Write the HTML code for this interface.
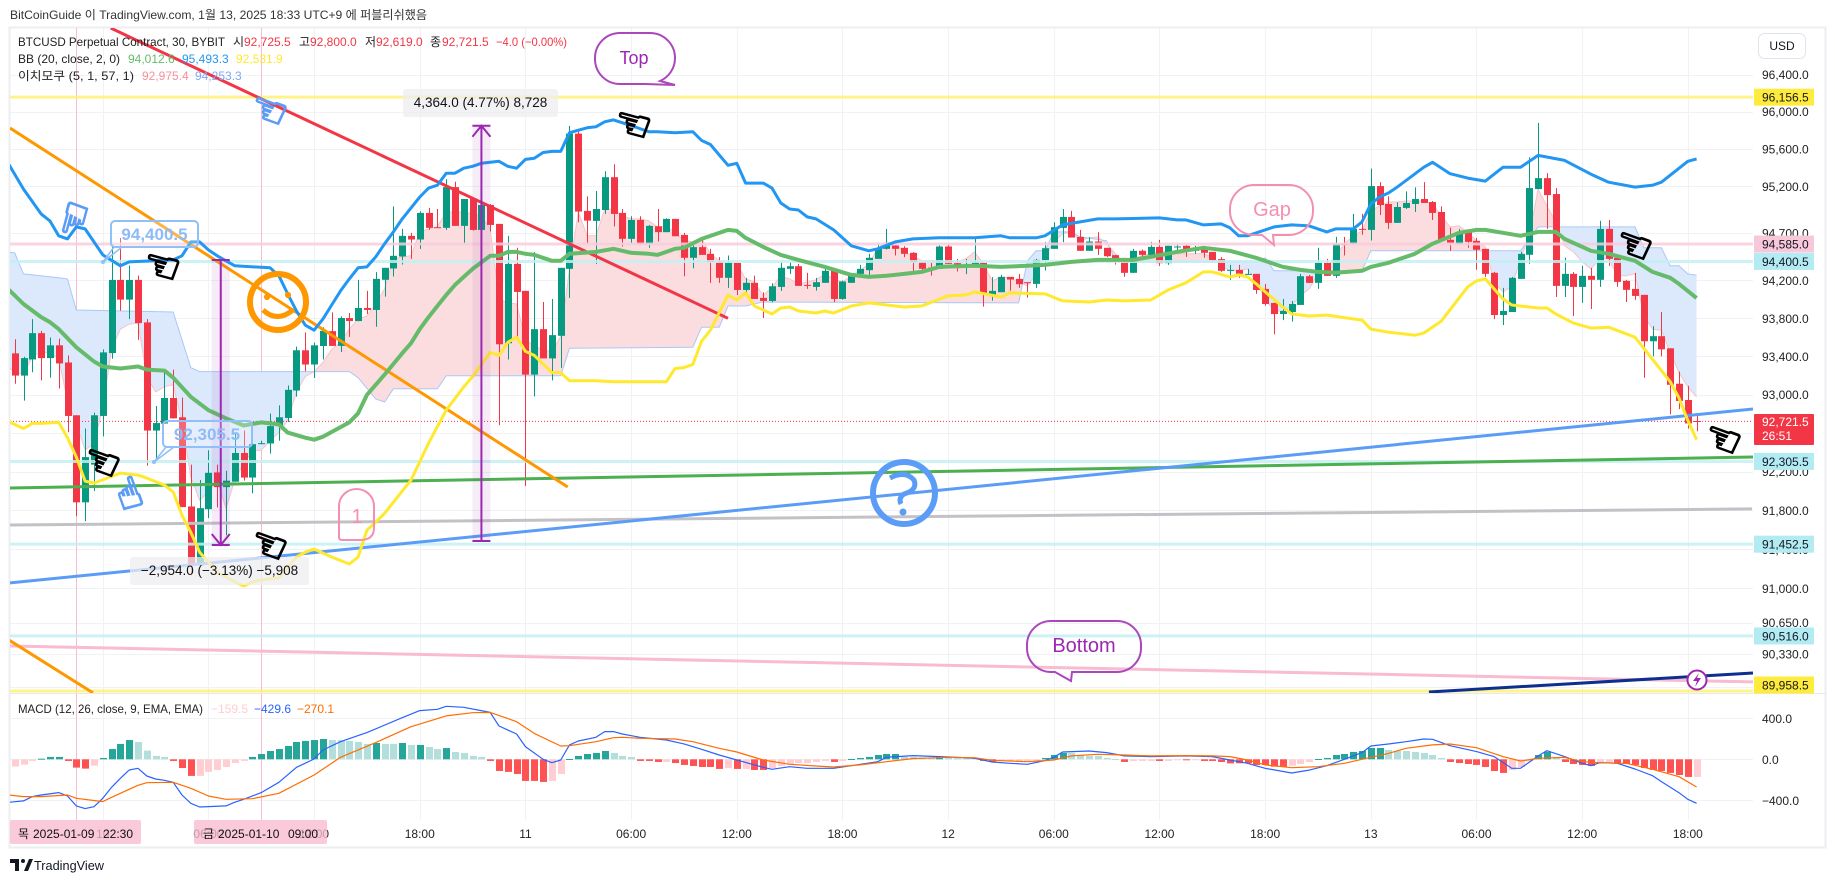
<!DOCTYPE html>
<html lang="ko">
<head>
<meta charset="utf-8">
<title>BTCUSD Perpetual Contract chart</title>
<style>
html,body{margin:0;padding:0;background:#fff;}
svg{display:block;}
text{font-family:"Liberation Sans","Noto Sans CJK KR",sans-serif;}
.hand{font-family:"DejaVu Sans",sans-serif;font-size:42px;text-anchor:middle;dominant-baseline:central;}
</style>
</head>
<body>
<svg id="chart" xmlns="http://www.w3.org/2000/svg" width="1835" height="883" viewBox="0 0 1835 883">
  <rect width="1835" height="883" fill="#fff"/>
  <text x="10" y="19" font-size="12" fill="#333" textLength="417" lengthAdjust="spacingAndGlyphs">BitCoinGuide 이 TradingView.com, 1월 13, 2025 18:33 UTC+9 에 퍼블리쉬했음</text>
  <rect x="9.5" y="27.5" width="1816" height="820" fill="#fff" stroke="#ECEEF3" stroke-width="2"/>
  <defs>
    <clipPath id="priceClip"><rect x="10" y="28" width="1743" height="665"/></clipPath>
    <clipPath id="macdClip"><rect x="10" y="694" width="1743" height="125"/></clipPath>
  </defs>
  <g id="gridLayer"></g>
  <g id="priceLayer" clip-path="url(#priceClip)"></g>
  <g id="macdLayer" clip-path="url(#macdClip)"></g>
  <line x1="10" y1="693.5" x2="1826" y2="693.5" stroke="#E6E8EE" stroke-width="1"/>

  <g>
    <path d="M620 33H650A25 25 0 0 1 675 58A25 25 0 0 1 660 81L675 85L645 84H620A25 25 0 0 1 595 59V58A25 25 0 0 1 620 33Z" fill="none" stroke="#AB47BC" stroke-width="2"/>
    <text x="634" y="64" font-size="18" fill="#9C27B0" text-anchor="middle">Top</text>
    <path d="M1254 185H1289A24 24 0 0 1 1313 209V211A24 24 0 0 1 1289 235H1273L1274 245L1262 235H1254A24 24 0 0 1 1230 211V209A24 24 0 0 1 1254 185Z" fill="none" stroke="#F48FB1" stroke-width="2"/>
    <text x="1272" y="216" font-size="20" fill="#F48FB1" text-anchor="middle">Gap</text>
    <path d="M1051 621H1117A24 24 0 0 1 1141 645V648A24 24 0 0 1 1117 672H1072L1071 681L1055 672H1051A24 24 0 0 1 1027 648V645A24 24 0 0 1 1051 621Z" fill="none" stroke="#AB47BC" stroke-width="2"/>
    <text x="1084" y="652" font-size="20" fill="#9C27B0" text-anchor="middle">Bottom</text>
    <path d="M339 506A17.5 17 0 0 1 374 506V528Q374 540 360 540H342Q339 540 339 537Z" fill="none" stroke="#F48FB1" stroke-width="2"/>
    <text x="357" y="523" font-size="20" fill="#F48FB1" text-anchor="middle">1</text>

    <g>
      <rect x="111" y="221" width="87" height="26" rx="4" fill="rgba(255,255,255,.25)" stroke="#90BFF9" stroke-width="2"/>
      <path d="M122 247L103 262M103 262L114 247" stroke="#90BFF9" stroke-width="1.6" fill="none"/>
      <circle cx="103" cy="262" r="2" fill="#90BFF9"/>
      <text x="154.5" y="240" font-size="17" font-weight="700" fill="#8DBBF9" text-anchor="middle">94,400.5</text>
    </g>
    <g>
      <rect x="163" y="421" width="89" height="26" rx="4" fill="rgba(255,255,255,.25)" stroke="#90BFF9" stroke-width="2"/>
      <path d="M174 447L154 462M154 462L166 447" stroke="#90BFF9" stroke-width="1.6" fill="none"/>
      <circle cx="154" cy="462" r="2" fill="#90BFF9"/>
      <text x="207" y="440" font-size="17" font-weight="700" fill="#8DBBF9" text-anchor="middle">92,305.5</text>
    </g>

    <g>
      <rect x="403" y="89" width="155" height="28" rx="3" fill="rgba(238,238,240,.75)"/>
      <text x="480.5" y="107" font-size="13.5" fill="#111" text-anchor="middle">4,364.0 (4.77%) 8,728</text>
    </g>
    <g>
      <rect x="130" y="557" width="179" height="28" rx="3" fill="rgba(238,238,240,.75)"/>
      <text x="219.5" y="575" font-size="13.5" fill="#111" text-anchor="middle">−2,954.0 (−3.13%) −5,908</text>
    </g>

    <g fill="none" stroke="#FF9800" stroke-width="6">
      <circle cx="278" cy="302" r="28"/>
      <circle cx="267" cy="297" r="1.6" stroke-width="3"/>
      <circle cx="288" cy="295" r="1.6" stroke-width="3"/>
      <path d="M263 310Q277 323 293 310" stroke-width="5"/>
    </g>
    <g fill="none" stroke="#5B9CF6" stroke-width="6">
      <circle cx="904" cy="493" r="31"/>
      <path d="M890 478Q905 470 914 480Q918 490 904 494Q898 498 901 504" stroke-width="5"/>
      <circle cx="903" cy="512" r="2.5" fill="#5B9CF6" stroke-width="2"/>
    </g>
    <g>
      <circle cx="1697" cy="680" r="9.5" fill="#fff" stroke="#9C27B0" stroke-width="2"/>
      <path d="M1699 673L1693 681H1697L1695 687L1701 678H1697Z" fill="#9C27B0"/>
    </g>

    <text class="hand" x="162" y="266" fill="#000" stroke="#000" stroke-width="1.8" transform="rotate(15 162 266)">☜</text>
    <text class="hand" x="633" y="124" fill="#000" stroke="#000" stroke-width="1.8" transform="rotate(15 633 124)">☜</text>
    <text class="hand" x="102" y="462" fill="#000" stroke="#000" stroke-width="1.8" transform="rotate(20 102 462)">☜</text>
    <text class="hand" x="269" y="545" fill="#000" stroke="#000" stroke-width="1.8" transform="rotate(20 269 545)">☜</text>
    <text class="hand" x="1634" y="245" fill="#000" stroke="#000" stroke-width="1.8" transform="rotate(20 1634 245)">☜</text>
    <text class="hand" x="1723" y="439" fill="#000" stroke="#000" stroke-width="1.8" transform="rotate(20 1723 439)">☜</text>
    <text class="hand" x="269" y="110" fill="#5B9CF6" stroke="#5B9CF6" stroke-width="1.8" transform="rotate(20 269 110)">☜</text>
    <text class="hand" x="74" y="219" fill="#5B9CF6" stroke="#5B9CF6" stroke-width="1.8" transform="rotate(-75 74 219)">☜</text>
    <text class="hand" x="129" y="493" fill="#5B9CF6" stroke="#5B9CF6" stroke-width="1.8" transform="rotate(70 129 493)">☜</text>
  </g>

  <g font-size="12">
    <text x="18" y="46" fill="#222" textLength="207" lengthAdjust="spacingAndGlyphs">BTCUSD Perpetual Contract, 30, BYBIT</text>
    <text x="233" y="46" fill="#222">시</text><text x="244" y="46" fill="#F23645">92,725.5</text>
    <text x="299" y="46" fill="#222">고</text><text x="310" y="46" fill="#F23645">92,800.0</text>
    <text x="365" y="46" fill="#222">저</text><text x="376" y="46" fill="#F23645">92,619.0</text>
    <text x="430" y="46" fill="#222">종</text><text x="442" y="46" fill="#F23645">92,721.5</text>
    <text x="496" y="46" fill="#F23645" textLength="71" lengthAdjust="spacingAndGlyphs">−4.0 (−0.00%)</text>
    <text x="18" y="63" fill="#222">BB (20, close, 2, 0)</text>
    <text x="128" y="63" fill="#66BB6A">94,012.6</text>
    <text x="182" y="63" fill="#2196F3">95,493.3</text>
    <text x="236" y="63" fill="#FFE92E">92,531.9</text>
    <text x="18" y="80" fill="#222" textLength="116" lengthAdjust="spacingAndGlyphs">이치모쿠 (5, 1, 57, 1)</text>
    <text x="142" y="80" fill="#F7919A">92,975.4</text>
    <text x="195" y="80" fill="#7FA8F5">94,253.3</text>
    <text x="18" y="713" fill="#222" textLength="185" lengthAdjust="spacingAndGlyphs">MACD (12, 26, close, 9, EMA, EMA)</text>
    <text x="211" y="713" fill="#FFCDD2">−159.5</text>
    <text x="254" y="713" fill="#2962FF">−429.6</text>
    <text x="297" y="713" fill="#FF6D00">−270.1</text>
  </g>

  <g id="axisLayer"></g>
  <g id="tagLayer"></g>

  <g font-size="12">
    <rect x="10" y="820" width="131" height="24" rx="2" fill="rgba(248,187,208,.78)"/>
    <text x="18" y="838" fill="#111">목</text>
    <text x="33" y="838" fill="#111">2025-01-09</text>
    <text x="103" y="838" fill="#111">22:30</text>
    <rect x="194" y="820" width="133" height="24" rx="2" fill="rgba(248,187,208,.78)"/>
    <text x="203" y="838" fill="#111">금</text>
    <text x="218" y="838" fill="#111">2025-01-10</text>
    <text x="288" y="838" fill="#111">09:00</text>
  </g>

  <g>
    <rect x="1758.5" y="33.5" width="47" height="25" rx="6" fill="#fff" stroke="#E0E3EB"/>
    <text x="1782" y="50" font-size="12" fill="#131722" text-anchor="middle">USD</text>
  </g>

  <g>
    <path d="M10 859H19V871H15V863H10ZM24 871L29 859H33L28 871Z" fill="#131722"/>
    <circle cx="23" cy="861" r="2" fill="#131722"/>
    <text x="34" y="870" font-size="13" fill="#131722" textLength="70" lengthAdjust="spacingAndGlyphs">TradingView</text>
  </g>
</svg>

<script>
/* ---------- axis tick data ---------- */
const priceTicks = [96400,96000,95600,95200,94700,94200,93800,93400,93000,92600,92200,91800,91400,91000,90650,90330,90000];
const priceTickLabels = ["96,400.0","96,000.0","95,600.0","95,200.0","94,700.0","94,200.0","93,800.0","93,400.0","93,000.0","92,600.0","92,200.0","91,800.0","91,400.0","91,000.0","90,650.0","90,330.0",""];
const macdTicks = [400,0,-400];
const macdTickLabels = ["400.0","0.0","−400.0"];
const timeTickBars = [10,22,34,46,58,70,82,94,106,118,130,142,154,166,178,190];
const timeTickLabels = ["10","06:00","12:00","18:00","11","06:00","12:00","18:00","12","06:00","12:00","18:00","13","06:00","12:00","18:00"];
const markedBars = [7,28];

/* ---------- candles, bar 0 = 2025-01-09 19:00, 30 min bars ---------- */
const opens = [93432,93199,93368,93644,93382,93516,93336,92785,91883,92273,
92778,93435,94205,93997,94205,93757,92626,92697,92965,92764,
91840,91235,91812,92192,92040,92096,92393,92139,92492,92492,
92672,92757,93043,93464,93315,93509,93665,93510,93803,93771,
93909,93888,94206,94326,94453,94672,94633,94916,94764,94757,
95191,94778,95064,94735,95000,94799,93538,94375,94089,93209,
93686,93379,93616,94322,95764,94937,94831,94947,95297,94916,
94640,94841,94587,94774,94711,94852,94682,94439,94552,94481,
94393,94227,94386,94099,94174,94015,93983,94131,94322,94350,
94152,94131,94174,94301,94004,94174,94269,94308,94428,94534,
94569,94545,94492,94393,94336,94322,94559,94382,94361,94368,
94386,94039,94075,94237,94216,94181,94163,94414,94534,94757,
94873,94661,94513,94612,94545,94467,94393,94280,94513,94470,
94555,94382,94552,94566,94513,94534,94502,94425,94301,94311,
94258,94269,94110,93962,93845,93866,93941,94244,94174,94386,
94248,94587,94587,94746,94735,95202,95011,94810,94969,95011,
95064,95032,94926,94630,94587,94711,94619,94534,94280,93835,
93866,94216,94471,95170,95287,95117,94142,94269,94131,94248,
94206,94746,94439,94195,94110,94047,93559,93612,93485,93114,
92944,92725.5];
const highs = [93580,93396,93792,93668,93598,93587,93410,92785,92647,92813,
93474,94555,94651,94357,94251,93792,92881,93227,93262,92969,
92273,92114,92421,92273,92209,92594,92626,92520,92520,92803,
92888,93096,93502,93651,93545,93704,93863,93820,93856,94206,
94089,94287,94333,94986,94746,94704,94933,94969,94958,95276,
95248,95064,95071,95064,95011,94799,94672,94545,94089,94499,
93972,94004,94333,95848,95785,95092,95149,95361,95435,94958,
94880,94880,94788,94958,94859,94852,94704,94587,94647,94534,
94446,94463,94386,94227,94251,94075,94170,94393,94393,94375,
94280,94227,94340,94322,94198,94276,94364,94481,94598,94746,
94576,94562,94499,94393,94386,94569,94587,94428,94428,94658,
94393,94234,94258,94237,94269,94181,94428,94605,94817,94958,
94937,94735,94658,94711,94545,94470,94435,94534,94527,94608,
94629,94566,94587,94576,94566,94545,94502,94446,94364,94364,
94322,94269,94163,93962,94004,93983,94269,94258,94545,94428,
94661,94661,94905,94905,95389,95244,95092,95029,95145,95188,
95244,95043,94986,94760,94746,94735,94651,94534,94290,94121,
94237,94502,95509,95880,95340,95181,94439,94287,94354,94333,
94831,94841,94439,94206,94280,94047,93718,93866,93485,93241,
93093,92800];
const lows = [93114,92937,93234,93149,93177,93064,92609,91740,91690,91998,
92566,93375,93880,93792,93573,92262,92326,92697,92750,91834,
91134,91235,91720,91830,91543,92096,92107,91977,92485,92386,
92520,92715,92979,93244,93174,93368,93510,93446,93605,93771,
93845,93711,94029,94241,94368,94428,94534,94735,94757,94735,
94778,94594,94728,94735,94718,92683,93368,93580,92050,92980,
93379,93149,93280,94015,94817,94587,94375,94905,94771,94559,
94594,94577,94545,94612,94711,94668,94244,94329,94470,94174,
94174,94121,94046,94068,94004,93803,93969,94089,94269,94142,
94110,94092,94174,93969,93997,94174,94269,94244,94428,94527,
94463,94446,94297,94304,94251,94322,94375,94294,94266,94368,
93923,93986,94075,94092,94121,94018,94121,94304,94534,94605,
94654,94513,94513,94470,94446,94368,94237,94280,94449,94449,
94354,94364,94513,94449,94481,94439,94393,94290,94206,94227,
94258,94057,93933,93633,93781,93767,93941,94174,94110,94248,
94227,94463,94577,94683,94622,94894,94746,94810,94958,94926,
95022,94841,94630,94513,94577,94545,94312,94237,93792,93729,
93866,94216,94375,95170,94746,94025,94025,93824,93962,93898,
94131,94354,94131,93972,93994,93177,93400,93400,92796,92849,
92647,92619];
const closes = [93199,93382,93644,93382,93516,93326,92778,91883,92351,92785,
93442,94205,93997,94205,93750,92626,92704,92965,92753,91834,
91235,91823,92188,92040,92107,92393,92139,92485,92495,92672,
92764,93050,93464,93315,93516,93668,93510,93803,93771,93909,
93888,94216,94333,94460,94672,94633,94916,94757,94757,95191,
94778,95064,94735,95000,94788,93527,94375,94078,93209,93686,
93379,93623,94333,95764,94930,94834,94958,95297,94905,94640,
94841,94587,94778,94711,94852,94668,94439,94552,94470,94393,
94227,94386,94099,94174,94004,93983,94138,94333,94350,94142,
94142,94181,94301,94004,94188,94276,94322,94439,94541,94569,
94534,94481,94393,94322,94322,94559,94375,94368,94368,94393,
94057,94089,94237,94209,94160,94170,94417,94541,94764,94873,
94654,94513,94612,94534,94456,94428,94280,94513,94470,94555,
94382,94566,94559,94513,94523,94492,94414,94301,94311,94269,
94269,94099,93951,93845,93877,93951,94244,94174,94386,94248,
94587,94577,94746,94739,95202,95000,94810,94979,95022,95064,
95022,94916,94630,94598,94711,94608,94524,94269,93835,93877,
94227,94481,95181,95287,95106,94142,94269,94131,94248,94206,
94746,94428,94184,94100,94036,93559,93612,93474,93103,92934,
92700,92721.5];

/* ---------- Bollinger bands as [bar, price] readings ---------- */
const bbUpperPoints = [[-1,95488],[1,95170],[3,94905],[4,94831],[5,94672],[6,94640],[7,94767],[8,94746],[10,94470],[12,94354],[13,94396],[18,94417],[19,94460],[20,94608],[21,94608],[22,94523],[23,94460],[25,94354],[29,94333],[30,94248],[31,94057],[32,93877],[33,93728],[34,93675],[35,93792],[36,93940],[37,94089],[38,94216],[39,94333],[40,94343],[41,94449],[42,94587],[43,94714],[44,94852],[45,94969],[46,95085],[47,95181],[48,95212],[49,95340],[50,95340],[51,95393],[52,95414],[53,95446],[55,95467],[56,95414],[57,95393],[58,95488],[59,95499],[60,95562],[61,95573],[62,95573],[63,95774],[65,95827],[66,95838],[67,95891],[68,95912],[70,95850],[72,95785],[73,95785],[75,95774],[77,95785],[78,95690],[79,95647],[81,95424],[82,95446],[83,95234],[85,95234],[86,95181],[87,95022],[88,94958],[89,94947],[90,94873],[91,94852],[93,94735],[95,94566],[97,94513],[98,94534],[100,94608],[102,94640],[105,94651],[109,94651],[112,94672],[113,94651],[116,94651],[117,94672],[119,94788],[121,94820],[123,94852],[125,94852],[130,94863],[132,94841],[133,94841],[135,94788],[137,94799],[138,94757],[139,94672],[140,94672],[143,94767],[145,94788],[147,94778],[149,94714],[150,94746],[152,94746],[153,94820],[154,95011],[155,95085],[156,95128],[157,95191],[160,95403],[161,95456],[163,95334],[165,95287],[167,95255],[168,95329],[169,95403],[171,95403],[173,95530],[176,95477],[179,95329],[181,95244],[184,95191],[186,95212],[187,95244],[190,95467],[191,95493.3]];
const bbBasisPoints = [[-1,94131],[1,93951],[3,93813],[4,93760],[5,93686],[7,93495],[9,93347],[10,93294],[12,93273],[14,93294],[15,93262],[17,93251],[18,93177],[20,92976],[22,92838],[24,92753],[26,92679],[28,92711],[30,92690],[31,92605],[33,92552],[34,92531],[35,92562],[38,92711],[39,92806],[40,92997],[42,93209],[44,93432],[45,93538],[46,93686],[47,93813],[48,93930],[49,94046],[50,94152],[51,94237],[52,94322],[54,94460],[55,94460],[56,94502],[57,94502],[58,94481],[59,94470],[61,94407],[62,94407],[63,94481],[66,94502],[68,94534],[70,94492],[72,94481],[73,94470],[74,94502],[75,94534],[76,94545],[78,94640],[81,94735],[82,94725],[83,94650],[85,94555],[87,94470],[89,94417],[92,94343],[95,94258],[97,94237],[99,94248],[101,94269],[103,94290],[105,94343],[109,94354],[112,94343],[115,94354],[117,94364],[120,94396],[123,94417],[127,94417],[129,94449],[132,94502],[135,94545],[138,94513],[141,94438],[144,94343],[146,94311],[148,94290],[150,94280],[153,94301],[154,94343],[156,94386],[159,94481],[161,94587],[164,94704],[166,94735],[167,94735],[169,94704],[171,94672],[172,94693],[173,94714],[175,94714],[176,94640],[179,94513],[181,94481],[184,94407],[186,94290],[188,94227],[189,94163],[191,94012.6]];
const bbLowerPoints = [[-1,92732],[1,92647],[2,92700],[3,92700],[5,92711],[6,92552],[7,92352],[8,92102],[9,92082],[12,92185],[14,92164],[15,92133],[17,92061],[18,91990],[19,91750],[20,91575],[21,91370],[22,91270],[23,91167],[25,91065],[26,91024],[27,91065],[28,91086],[30,91107],[32,91321],[33,91370],[34,91402],[36,91321],[38,91249],[39,91321],[40,91596],[41,91678],[42,91770],[43,91884],[45,92113],[47,92496],[49,92838],[51,93082],[52,93188],[54,93442],[55,93410],[56,93548],[57,93601],[58,93453],[59,93410],[61,93230],[62,93230],[63,93145],[66,93145],[68,93135],[74,93135],[75,93273],[76,93283],[77,93315],[78,93559],[79,93675],[81,94046],[82,93993],[83,94068],[84,93930],[86,93845],[87,93909],[88,93919],[89,93877],[91,93856],[92,93877],[93,93856],[95,93930],[97,93962],[101,93919],[103,93930],[106,94036],[108,94046],[109,94078],[112,94025],[113,94068],[117,94057],[119,93983],[122,93972],[124,93993],[126,93983],[129,93993],[131,94099],[133,94174],[135,94290],[136,94290],[138,94237],[139,94258],[140,94237],[141,94163],[142,94078],[144,93919],[145,93845],[147,93824],[149,93834],[153,93781],[154,93686],[156,93654],[159,93622],[160,93644],[162,93771],[165,94131],[166,94195],[167,94216],[169,94004],[170,93940],[173,93909],[174,93909],[175,93845],[177,93750],[179,93697],[181,93707],[184,93601],[186,93368],[188,93135],[189,92965],[190,92732],[191,92531.9]];

/* ---------- Ichimoku cloud ---------- */
const spanAFirstBar = -1;
const spanAValues = [93315,93230,93209,93400,93442,93442,93368,92944,92700,92424,92488,
92870,93474,93686,93739,93750,93188,93029,93082,93103,92711,
92145,91905,91990,92113,91820,92113,92286,92410,92424,92520,
92605,92732,93029,93188,93241,93336,93474,93548,93686,93792,
93824,93951,94110,94428,94449,94460,94714,94746,94767,94926,
94926,94926,94905,94884,94746,94004,93962,93951,93580,93506,
93474,93442,93612,94322,94926,94672,94672,94958,94958,94884,
94852,94852,94831,94767,94767,94714,94619,94608,94640,94481,
94407,94396,94375,94216,94184,94036,94131,94248,94216,94163,
94184,94205,94269,94216,94184,94248,94301,94375,94534,94608,
94587,94502,94460,94407,94407,94396,94396,94396,94428,94502,
94375,94195,94237,94227,94184,94142,94269,94449,94608,94693,
94714,94619,94651,94661,94587,94481,94375,94428,94460,94481,
94513,94502,94481,94481,94481,94481,94449,94354,94301,94301,
94322,94184,94004,93877,93877,93930,94036,94110,94269,94322,
94460,94587,94672,94725,94937,94990,95032,95032,95043,95043,
95043,95011,94884,94767,94778,94714,94619,94555,94184,94078,
94131,94428,94672,95170,94990,94820,94566,94502,94396,94322,
94428,94428,94248,94248,94269,93824,93686,93675,93442,93230,
93082,92975.4];
const spanBPoints = [[-1,94502],[0,94492],[1,94269],[5,94227],[6,94216],[7,93887],[18,93866],[20,93283],[21,93241],[38,93241],[39,93177],[41,92955],[42,92923],[43,93061],[48,93061],[49,93198],[62,93198],[63,93485],[77,93495],[78,93707],[80,93707],[81,93930],[83,93930],[85,93972],[114,93962],[115,94407],[116,94513],[117,94513],[118,94714],[120,94714],[121,94661],[124,94619],[125,94407],[126,94396],[141,94396],[142,94438],[143,94301],[153,94301],[154,94513],[171,94513],[173,94767],[184,94767],[185,94545],[187,94545],[188,94354],[189,94354],[190,94269],[191,94253.3]];

/* ---------- horizontal levels, trend lines and measures ---------- */
const levelPrices = [96156.5,94585.0,94400.5,92305.5,91452.5,90516.0,89958.5];
const levelLabels = ["96,156.5","94,585.0","94,400.5","92,305.5","91,452.5","90,516.0","89,958.5"];
const levelColors = ["#FFF176","#F8CEDD","#C4F0F3","#C4F0F3","#C4F0F3","#C4F0F3","#FFF176"];
const levelTagColors = ["#FFEB3B","#F8C8DA","#B2EBF2","#B2EBF2","#B2EBF2","#B2EBF2","#FFEB3B"];
const lastPrice = 92721.5;
const lastPriceLabel = "92,721.5";
const countdownLabel = "26:51";
const trendRed = [10.9,96905,81,93800];
const trendOrangeUpper = [-0.53,95824,62.8,92041];
const trendOrangeLower = [-0.65,90474,8.9,89939];
const trendBlue = [-0.53,91056,197.4,92850];
const trendGreen = [-0.53,92031,197.4,92351];
const trendGrey = [-0.53,91649,197.3,91815];
const trendPink = [-0.65,90414,197.4,90050];
const trendNavy = [160.6,89948,197.4,90140];
const measureUp = [53,91485,95849];
const measureDown = [23.4,94416,91444];

/* ---------- MACD ---------- */
const macdHist = [-71,-52,-16,6,23,23,-16,-81,-91,-62,
13,100,150,188,169,85,33,23,-16,-85,
-162,-162,-123,-104,-75,-36,-16,23,52,81,
100,130,169,179,188,198,188,188,179,169,
150,159,150,150,159,140,140,120,100,110,
71,62,33,23,-16,-114,-123,-143,-211,-211,
-221,-211,-143,3,33,52,62,81,62,33,
23,-16,-16,-26,-26,-36,-55,-65,-75,-75,
-94,-85,-94,-94,-104,-104,-85,-65,-46,-36,
-36,-26,-16,-26,-16,3,13,23,42,52,
52,23,23,16,13,23,16,13,10,10,
-16,-26,-16,-16,-16,-16,-16,13,42,62,
62,42,33,33,13,3,-26,-16,-16,-16,
-16,-16,-6,-8,-6,-16,-16,-26,-40,-39,
-39,-55,-55,-72,-72,-62,-46,-26,3,13,
42,52,72,81,111,111,91,81,81,72,
62,42,13,-26,-36,-46,-55,-75,-114,-133,
-104,-75,-20,42,72,23,-26,-46,-55,-65,
-33,-33,-36,-46,-55,-85,-104,-114,-133,-153,
-172,-172];
const macdFadedBars = [0,1,2,9,14,15,16,17,21,22,23,24,25,26,36,37,38,39,40,42,43,45,47,48,50,51,52,53,61,62,68,69,70,74,81,83,86,87,88,89,90,91,92,94,101,102,103,104,106,107,108,109,112,113,114,115,116,120,121,122,123,124,125,127,128,129,131,132,134,145,146,147,156,157,158,159,160,161,162,170,171,172,175,180,181,191];
const macdLinePoints = [[-1,-422],[1,-406],[2,-364],[3,-348],[5,-325],[6,-358],[7,-455],[8,-481],[9,-462],[10,-380],[11,-273],[12,-185],[13,-104],[14,-88],[15,-163],[16,-192],[17,-205],[18,-224],[19,-348],[20,-429],[21,-465],[24,-455],[25,-419],[26,-390],[28,-325],[30,-224],[32,-78],[34,3],[35,91],[37,172],[39,231],[40,260],[44,406],[46,475],[48,488],[49,517],[51,507],[54,458],[55,325],[57,247],[58,124],[60,0],[61,-33],[62,-7],[63,140],[64,179],[66,215],[67,270],[68,270],[69,247],[71,215],[74,188],[76,150],[78,98],[80,42],[82,-7],[85,-78],[86,-98],[88,-72],[90,-88],[93,-88],[95,-62],[98,-23],[99,20],[102,36],[105,26],[107,20],[109,10],[111,-26],[113,-39],[115,-49],[117,-13],[118,20],[119,71],[122,81],[124,65],[126,33],[129,26],[133,33],[136,26],[138,-7],[140,-39],[142,-88],[145,-134],[147,-105],[149,-62],[151,0],[153,65],[154,130],[156,149],[158,172],[160,198],[161,195],[163,133],[166,75],[168,26],[170,-88],[171,-88],[173,32],[174,84],[176,26],[178,-39],[179,-62],[180,-33],[182,-39],[184,-95],[186,-160],[187,-218],[189,-326],[190,-390],[191,-429.6]];
const macdSignalPoints = [[-1,-345],[1,-364],[3,-364],[6,-348],[7,-380],[10,-413],[11,-371],[14,-254],[15,-228],[18,-224],[20,-283],[22,-358],[24,-390],[27,-384],[30,-332],[34,-153],[37,20],[41,163],[45,318],[49,423],[52,455],[54,458],[57,367],[59,253],[62,130],[63,133],[66,172],[68,211],[69,215],[71,205],[75,198],[77,172],[80,107],[82,71],[85,-7],[88,-49],[91,-65],[93,-75],[96,-55],[99,-23],[102,7],[106,20],[109,16],[111,-10],[115,-23],[118,-7],[120,33],[123,49],[126,42],[129,33],[133,36],[136,33],[138,26],[140,-7],[142,-55],[145,-82],[148,-72],[151,-39],[153,0],[156,58],[158,107],[161,140],[163,149],[166,113],[169,26],[171,-17],[173,10],[176,19],[178,-23],[180,-33],[183,-39],[186,-98],[189,-170],[191,-270.1]];

/* ---------- axis functions ---------- */
const svgNS = 'http://www.w3.org/2000/svg';
function xOf(bar){ return 14.7 + 8.806 * bar; }
function yOf(price){ return 111.7 + 8912 * Math.log(96000 / price); }
function yMacd(value){ return 759.3 - 0.1025 * value; }
function mk(tag, attrs, parent){
  const el = document.createElementNS(svgNS, tag);
  for (const k in attrs) el.setAttribute(k, attrs[k]);
  parent.appendChild(el);
  return el;
}
function pointsOf(series, yFn){
  return series.map(function(p){ return xOf(p[0]).toFixed(1) + ',' + yFn(p[1]).toFixed(1); }).join(' ');
}
const gridLayer = document.getElementById('gridLayer');
const priceLayer = document.getElementById('priceLayer');
const macdLayer = document.getElementById('macdLayer');
const axisLayer = document.getElementById('axisLayer');
const tagLayer = document.getElementById('tagLayer');
const defs = document.querySelector('defs');

/* ---------- grid and axis labels ---------- */
priceTicks.forEach(function(p, i){
  const y = Math.round(yOf(p)) + 0.5;
  const line = mk('line', {x1:10, x2:1753, y1:y, y2:y, stroke:'#F1F2F5', 'stroke-width':1}, gridLayer);
  
  
  if (priceTickLabels[i]) {
    const label = mk('text', {x:1762, y:yOf(p) + 4.5, 'font-size':12, fill:'#222'}, axisLayer);
    
    
    label.textContent = priceTickLabels[i];
  }
});
macdTicks.forEach(function(v, i){
  const y = Math.round(yMacd(v)) + 0.5;
  const line = mk('line', {x1:10, x2:1753, y1:y, y2:y, stroke:'#F1F2F5', 'stroke-width':1}, gridLayer);
  
  
  const label = mk('text', {x:1762, y:yMacd(v) + 4.5, 'font-size':12, fill:'#222'}, axisLayer);
  
  
  label.textContent = macdTickLabels[i];
});
timeTickBars.forEach(function(bar, i){
  const x = Math.round(xOf(bar)) + 0.5;
  const line = mk('line', {x1:x, x2:x, y1:28, y2:820, stroke:'#F1F2F5', 'stroke-width':1}, gridLayer);
  
  
  const label = mk('text', {x:xOf(bar), y:838, 'font-size':12, fill:'#222', 'text-anchor':'middle'}, axisLayer);
  
  
  label.textContent = timeTickLabels[i];
});

/* ---------- Ichimoku cloud ---------- */
const spanAPoints = spanAValues.map(function(v, k){ return [spanAFirstBar + k, v]; });
const spanBLine = pointsOf(spanBPoints, yOf);
const cloudPoly = pointsOf(spanAPoints, yOf) + ' ' + pointsOf(spanBPoints.slice().reverse(), yOf);
const firstX = xOf(spanBPoints[0][0]);
const lastX = xOf(spanBPoints[spanBPoints.length - 1][0]);
const clipAbove = mk('clipPath', {id:'aboveB'}, defs);
mk('polygon', {points: spanBLine + ' ' + lastX + ',0 ' + firstX + ',0'}, clipAbove);
const clipBelow = mk('clipPath', {id:'belowB'}, defs);
mk('polygon', {points: spanBLine + ' ' + lastX + ',900 ' + firstX + ',900'}, clipBelow);
const cloudRed = mk('polygon', {points:cloudPoly, fill:'#FBDDDF', 'clip-path':'url(#aboveB)'}, priceLayer);


const cloudBlue = mk('polygon', {points:cloudPoly, fill:'#DCE8FB', 'clip-path':'url(#belowB)'}, priceLayer);


const spanALine = mk('polyline', {points:pointsOf(spanAPoints, yOf), fill:'none', stroke:'#F7C3C8', 'stroke-width':1}, priceLayer);


const spanBEl = mk('polyline', {points:spanBLine, fill:'none', stroke:'#A9C8F7', 'stroke-width':1}, priceLayer);



/* ---------- marked time lines ---------- */
markedBars.forEach(function(bar){
  const x = Math.round(xOf(bar)) + 0.5;
  const line = mk('line', {x1:x, x2:x, y1:28, y2:820, stroke:'#F8BBD0', 'stroke-width':1}, gridLayer);
  
  
});

/* ---------- candles ---------- */
opens.forEach(function(open, i){
  const close = closes[i];
  const up = close >= open;
  const color = up ? '#089981' : '#F23645';
  const cx = Math.round(xOf(i));
  const wick = mk('line', {x1:cx + 0.5, x2:cx + 0.5, y1:yOf(highs[i]), y2:yOf(lows[i]), stroke:color, 'stroke-width':1}, priceLayer);
  
  
  const top = yOf(Math.max(open, close));
  const bottom = yOf(Math.min(open, close));
  const body = mk('rect', {x:cx - 3, y:top, width:7, height:Math.max(1, bottom - top), fill:color}, priceLayer);
  
  
});

/* ---------- horizontal levels ---------- */
levelPrices.forEach(function(p, i){
  const line = mk('line', {x1:10, x2:1753, y1:yOf(p), y2:yOf(p), stroke:levelColors[i], 'stroke-width':3, opacity:0.85}, priceLayer);
  
  
});
const lastLine = mk('line', {x1:10, x2:1753, y1:yOf(lastPrice), y2:yOf(lastPrice), stroke:'#F23645', 'stroke-width':1, 'stroke-dasharray':'1 2'}, priceLayer);



/* ---------- trend lines ---------- */
function drawTrend(t, color, width){
  const line = mk('line', {x1:xOf(t[0]), y1:yOf(t[1]), x2:xOf(t[2]), y2:yOf(t[3]), stroke:color, 'stroke-width':width}, priceLayer);
  return line;
}
const greyLine = drawTrend(trendGrey, '#C3C1C6', 3);


const pinkLine = drawTrend(trendPink, '#F8BBD0', 3);


const navyLine = drawTrend(trendNavy, '#0D2F8F', 3);


const greenLine = drawTrend(trendGreen, '#4CAF50', 3);


const blueLine = drawTrend(trendBlue, '#5B9CF6', 3);


const orangeUpper = drawTrend(trendOrangeUpper, '#FF9800', 3);


const orangeLower = drawTrend(trendOrangeLower, '#FF9800', 3);


const redLine = drawTrend(trendRed, '#F23645', 3);



/* ---------- Bollinger bands ---------- */
const lowerEl = mk('polyline', {points:pointsOf(bbLowerPoints, yOf), fill:'none', stroke:'#FFE92E', 'stroke-width':3, 'stroke-linejoin':'round'}, priceLayer);


const upperEl = mk('polyline', {points:pointsOf(bbUpperPoints, yOf), fill:'none', stroke:'#2196F3', 'stroke-width':3, 'stroke-linejoin':'round'}, priceLayer);


const basisEl = mk('polyline', {points:pointsOf(bbBasisPoints, yOf), fill:'none', stroke:'#66BB6A', 'stroke-width':4, 'stroke-linejoin':'round'}, priceLayer);



/* ---------- measure arrows ---------- */
function drawMeasure(m, name){
  const x = xOf(m[0]);
  const yFrom = yOf(m[1]);
  const yTo = yOf(m[2]);
  const dir = yTo < yFrom ? 1 : -1;
  const band = mk('rect', {x:x - 9, y:Math.min(yFrom, yTo), width:18, height:Math.abs(yFrom - yTo), fill:'rgba(156,39,176,.09)'}, priceLayer);
  
  
  const shaft = mk('line', {x1:x, x2:x, y1:yFrom, y2:yTo, stroke:'#9C27B0', 'stroke-width':2}, priceLayer);
  
  
  const capFrom = mk('line', {x1:x - 9, x2:x + 9, y1:yFrom, y2:yFrom, stroke:'#9C27B0', 'stroke-width':2}, priceLayer);
  
  
  const capTo = mk('line', {x1:x - 9, x2:x + 9, y1:yTo, y2:yTo, stroke:'#9C27B0', 'stroke-width':2}, priceLayer);
  
  
  const head = mk('polyline', {points:(x - 9) + ',' + (yTo + 11 * dir) + ' ' + x + ',' + yTo + ' ' + (x + 9) + ',' + (yTo + 11 * dir), fill:'none', stroke:'#9C27B0', 'stroke-width':2}, priceLayer);
  
  
}
drawMeasure(measureUp, 'measure-up');
drawMeasure(measureDown, 'measure-down');

/* ---------- MACD pane ---------- */
macdHist.forEach(function(v, i){
  const faded = macdFadedBars.indexOf(i) >= 0;
  const color = v >= 0 ? (faded ? '#B2DFDB' : '#26A69A') : (faded ? '#FFCDD2' : '#FF5252');
  const zero = yMacd(0);
  const y = yMacd(v);
  const bar = mk('rect', {x:Math.round(xOf(i)) - 3, y:Math.min(y, zero), width:7, height:Math.max(1, Math.abs(y - zero)), fill:color}, macdLayer);
  
  
});
const macdLineEl = mk('polyline', {points:pointsOf(macdLinePoints, yMacd), fill:'none', stroke:'#2962FF', 'stroke-width':1.2, 'stroke-linejoin':'round'}, macdLayer);


const signalEl = mk('polyline', {points:pointsOf(macdSignalPoints, yMacd), fill:'none', stroke:'#FF6D00', 'stroke-width':1.2, 'stroke-linejoin':'round'}, macdLayer);



/* ---------- right-hand price tags ---------- */
levelPrices.forEach(function(p, i){
  const y = Math.min(yOf(p), 685);
  const tag = mk('rect', {x:1754, y:y - 8.5, width:60, height:17, fill:levelTagColors[i]}, tagLayer);
  
  
  const label = mk('text', {x:1762, y:y + 4.5, 'font-size':12, fill:'#131722'}, tagLayer);
  
  
  label.textContent = levelLabels[i];
});
const lastTag = mk('rect', {x:1754, y:414, width:60, height:31, rx:1, fill:'#F23645'}, tagLayer);


const lastText = mk('text', {x:1762, y:426, 'font-size':12, fill:'#fff'}, tagLayer);


lastText.textContent = lastPriceLabel;
const countdownText = mk('text', {x:1762, y:440, 'font-size':12, fill:'#fff'}, tagLayer);


countdownText.textContent = countdownLabel;
</script>
</body>
</html>
